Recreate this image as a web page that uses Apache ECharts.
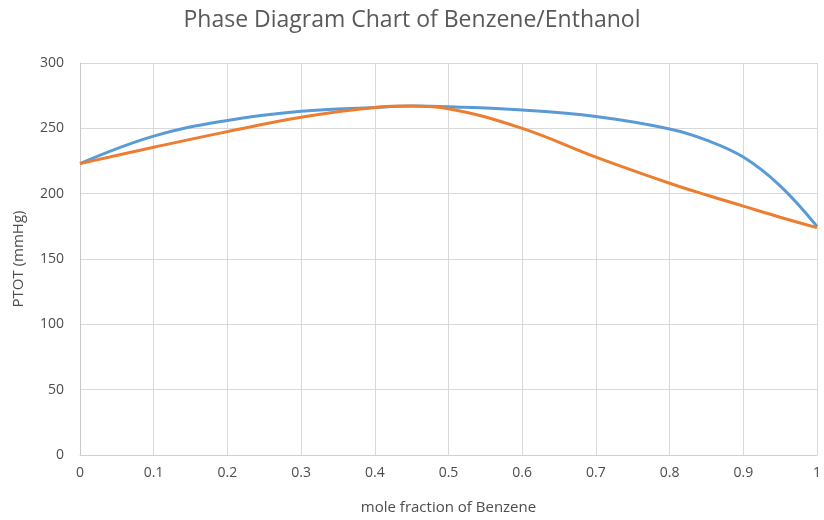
<!DOCTYPE html>
<html>
<head>
<meta charset="utf-8">
<script src="https://cdn.jsdelivr.net/npm/echarts@6/dist/echarts.min.js"></script>
<style>
  html, body { margin: 0; padding: 0; background: #fff; }
  #chart { width: 824px; height: 520px; }
</style>
</head>
<body>
<div id="chart"></div>
<script>
// mole fraction of benzene
const moleFraction = [0, 0.1, 0.2, 0.3, 0.4, 0.45, 0.5, 0.6, 0.7, 0.8, 0.85, 0.9, 0.95, 1]
// upper (blue) and lower (orange) curves, mmHg
const bluePressure = [223, 244, 256, 263, 266, 267, 266.5, 264, 259, 249.5, 241, 228, 206, 175]
const orangePressure = [223, 235.5, 247.5, 258.5, 266, 267, 265, 250, 228, 208, 199, 190.5, 182, 174]

const pairs = (xs, ys) => xs.map((x, i) => [x, ys[i]])

const font = 'Open Sans, Liberation Sans, sans-serif'
const textColor = '#4d4d4d'
const option = {
  animation: false,
  title: {
    text: 'Phase Diagram Chart of Benzene/Enthanol',
    left: 'center',
    top: 4,
    textStyle: { color: '#595959', fontSize: 23, fontWeight: 'normal', fontFamily: font }
  },
  grid: { left: 80, right: 3, top: 63, bottom: 65 },
  xAxis: {
    type: 'value',
    min: 0,
    max: 1,
    interval: 0.1,
    name: 'mole fraction of Benzene',
    nameLocation: 'middle',
    nameGap: 45,
    nameTextStyle: { color: textColor, fontSize: 15, fontFamily: font },
    axisLine: { show: true, lineStyle: { color: '#d0d0d0' } },
    axisTick: { show: false },
    axisLabel: {
      color: textColor, fontSize: 14, fontFamily: font, margin: 11,
      formatter: v => String(Math.round(v * 10) / 10)
    },
    splitLine: { show: true, lineStyle: { color: '#d9d9d9', width: 1 } }
  },
  yAxis: {
    type: 'value',
    min: 0,
    max: 300,
    interval: 50,
    name: 'PTOT (mmHg)',
    nameLocation: 'middle',
    nameGap: 54,
    nameTextStyle: { color: textColor, fontSize: 15, fontFamily: font },
    axisLine: { show: true, lineStyle: { color: '#c8c8c8' } },
    axisTick: { show: false },
    axisLabel: { color: textColor, fontSize: 14, fontFamily: font, margin: 16 },
    splitLine: { show: true, lineStyle: { color: '#d9d9d9', width: 1 } }
  },
  series: [
    {
      type: 'line',
      data: pairs(moleFraction, bluePressure),
      smooth: 0.4,
      showSymbol: false,
      lineStyle: { color: '#5B9BD5', width: 3 }
    },
    {
      type: 'line',
      data: pairs(moleFraction, orangePressure),
      smooth: 0.4,
      showSymbol: false,
      lineStyle: { color: '#ED7D31', width: 3 }
    }
  ]
}

const myChart = echarts.init(document.getElementById('chart'))
myChart.setOption(option, true)
window.addEventListener('resize', () => {
  myChart.resize()
})
</script>
</body>
</html>
